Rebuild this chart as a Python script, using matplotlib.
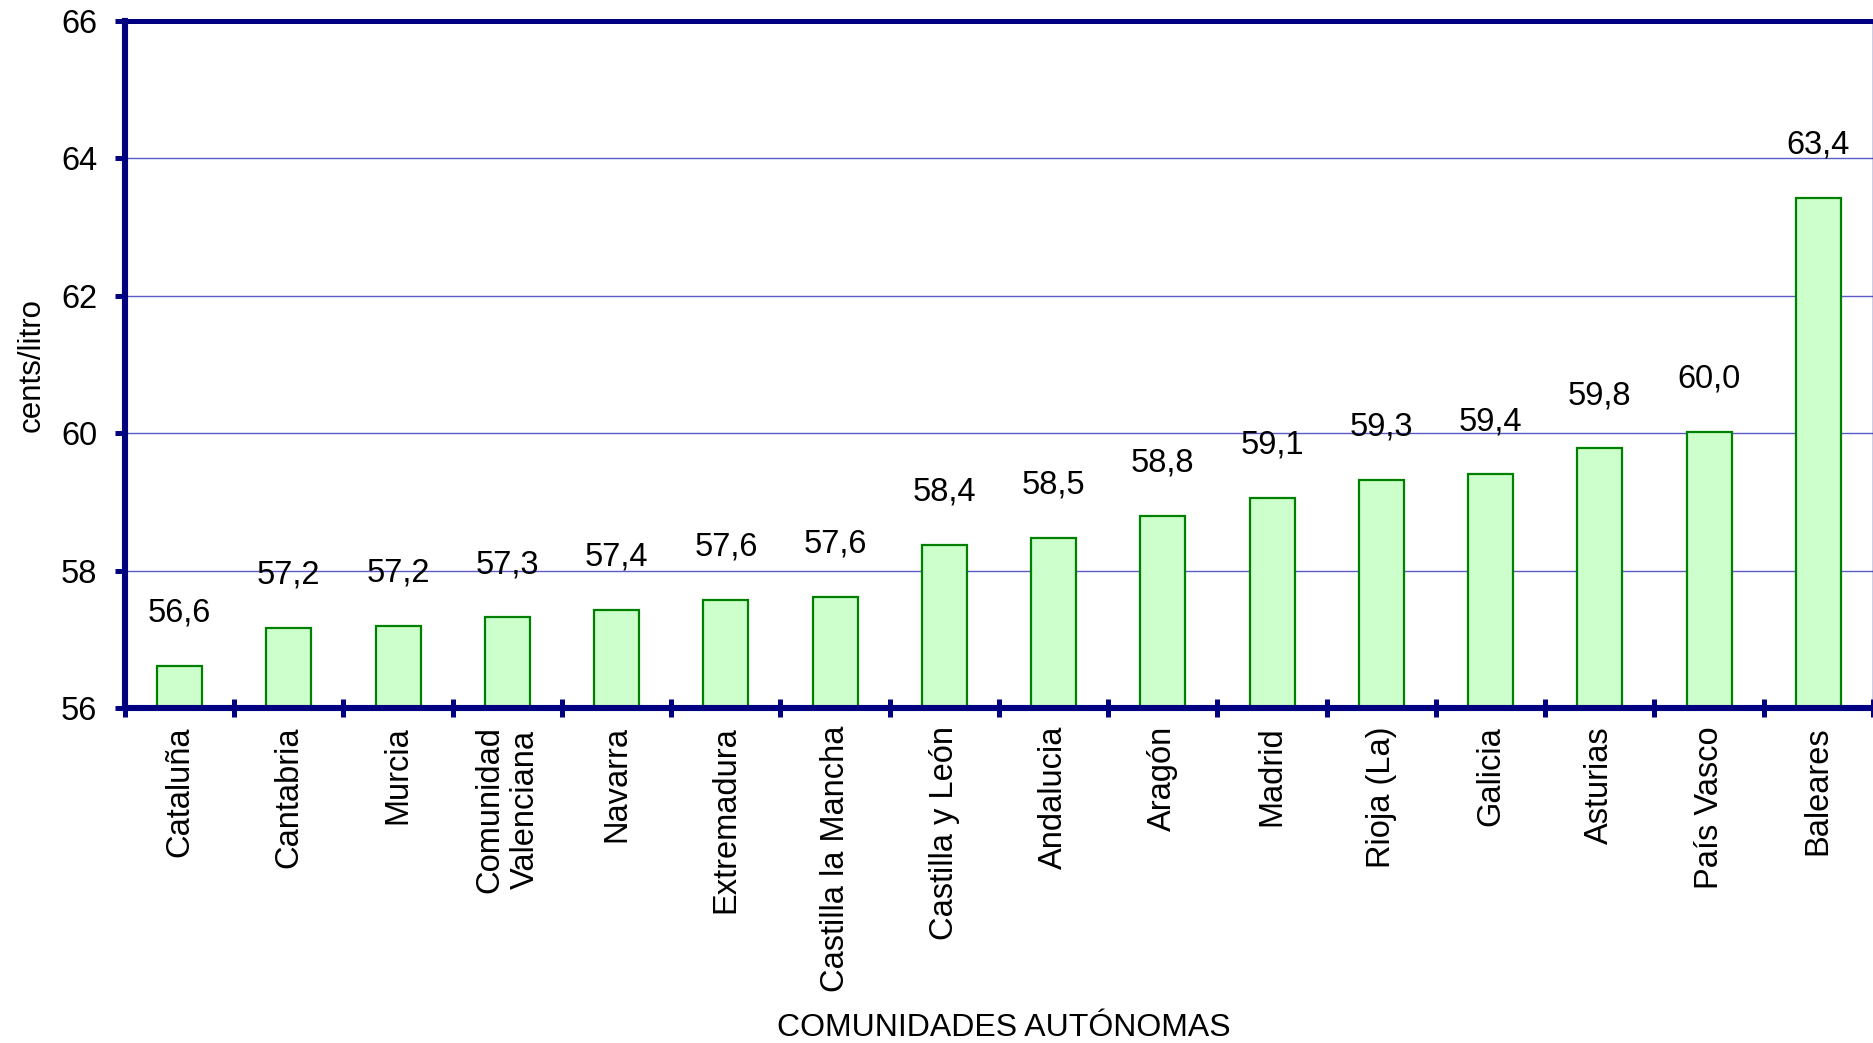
import matplotlib
matplotlib.use("Agg")
import matplotlib.pyplot as plt
import numpy as np

categories = ["Cataluña", "Cantabria", "Murcia", "Comunidad\nValenciana", "Navarra",
              "Extremadura", "Castilla la Mancha", "Castilla y León", "Andalucia",
              "Aragón", "Madrid", "Rioja (La)", "Galicia", "Asturias", "País Vasco",
              "Baleares"]
values = [56.61, 57.17, 57.19, 57.32, 57.43, 57.57, 57.62, 58.37, 58.48,
          58.80, 59.06, 59.32, 59.40, 59.78, 60.02, 63.43]
yticks = [56, 58, 60, 62, 64, 66]

plt.rcParams['font.family'] = ['Liberation Sans', 'DejaVu Sans']

W, H = 1874, 1043
fig = plt.figure(figsize=(W / 100, H / 100), dpi=100)
ax = fig.add_axes([125 / W, 1 - 708 / H, (1873 - 125) / W, (708 - 21) / H])

navy = '#000080'
FS = 23.5
x = np.arange(len(categories))
ax.bar(x, values, width=0.41, bottom=0, color='#CCFFCC', edgecolor='#008000',
       linewidth=1.6, zorder=3)

for xi, v in zip(x, values):
    ax.annotate(f"{v:.1f}".replace('.', ','), xy=(xi, v), xytext=(0, 38),
                textcoords='offset points', ha='center', va='center',
                fontsize=FS, color='black')

ax.set_ylim(56, 66)
ax.set_xlim(-0.5, len(categories) - 0.5)
ax.set_yticks(yticks)
ax.set_yticklabels([str(t) for t in yticks], fontsize=FS)
ax.yaxis.grid(True, color='#5a5ac8', linewidth=1.0, zorder=0)
ax.set_axisbelow(True)

ax.set_xticks(x)
ax.set_xticklabels(categories, rotation=90, fontsize=FS, ha='center', va='top',
                   multialignment='center')
ax.set_xticks(np.arange(-0.5, len(categories)), minor=True)
ax.tick_params(axis='x', which='major', length=0, pad=13)
ax.tick_params(axis='x', which='minor', direction='inout', length=13.5, width=3.6,
               color=navy)
ax.tick_params(axis='y', which='major', direction='out', length=7, width=3.6,
               color=navy, pad=13)

for s, lw in [('left', 4.4), ('bottom', 4.4), ('top', 3.6), ('right', 1.0)]:
    ax.spines[s].set_color(navy)
    ax.spines[s].set_linewidth(lw)
    ax.spines[s].set_zorder(4)

ax.set_ylabel("cents/litro", fontsize=FS - 1, labelpad=10)
fig.text(1004 / W, 1 - 1028 / H, "COMUNIDADES AUTÓNOMAS", fontsize=FS - 0.5,
         ha='center', va='center')

fig.savefig("out.png", dpi=100, facecolor='white')
